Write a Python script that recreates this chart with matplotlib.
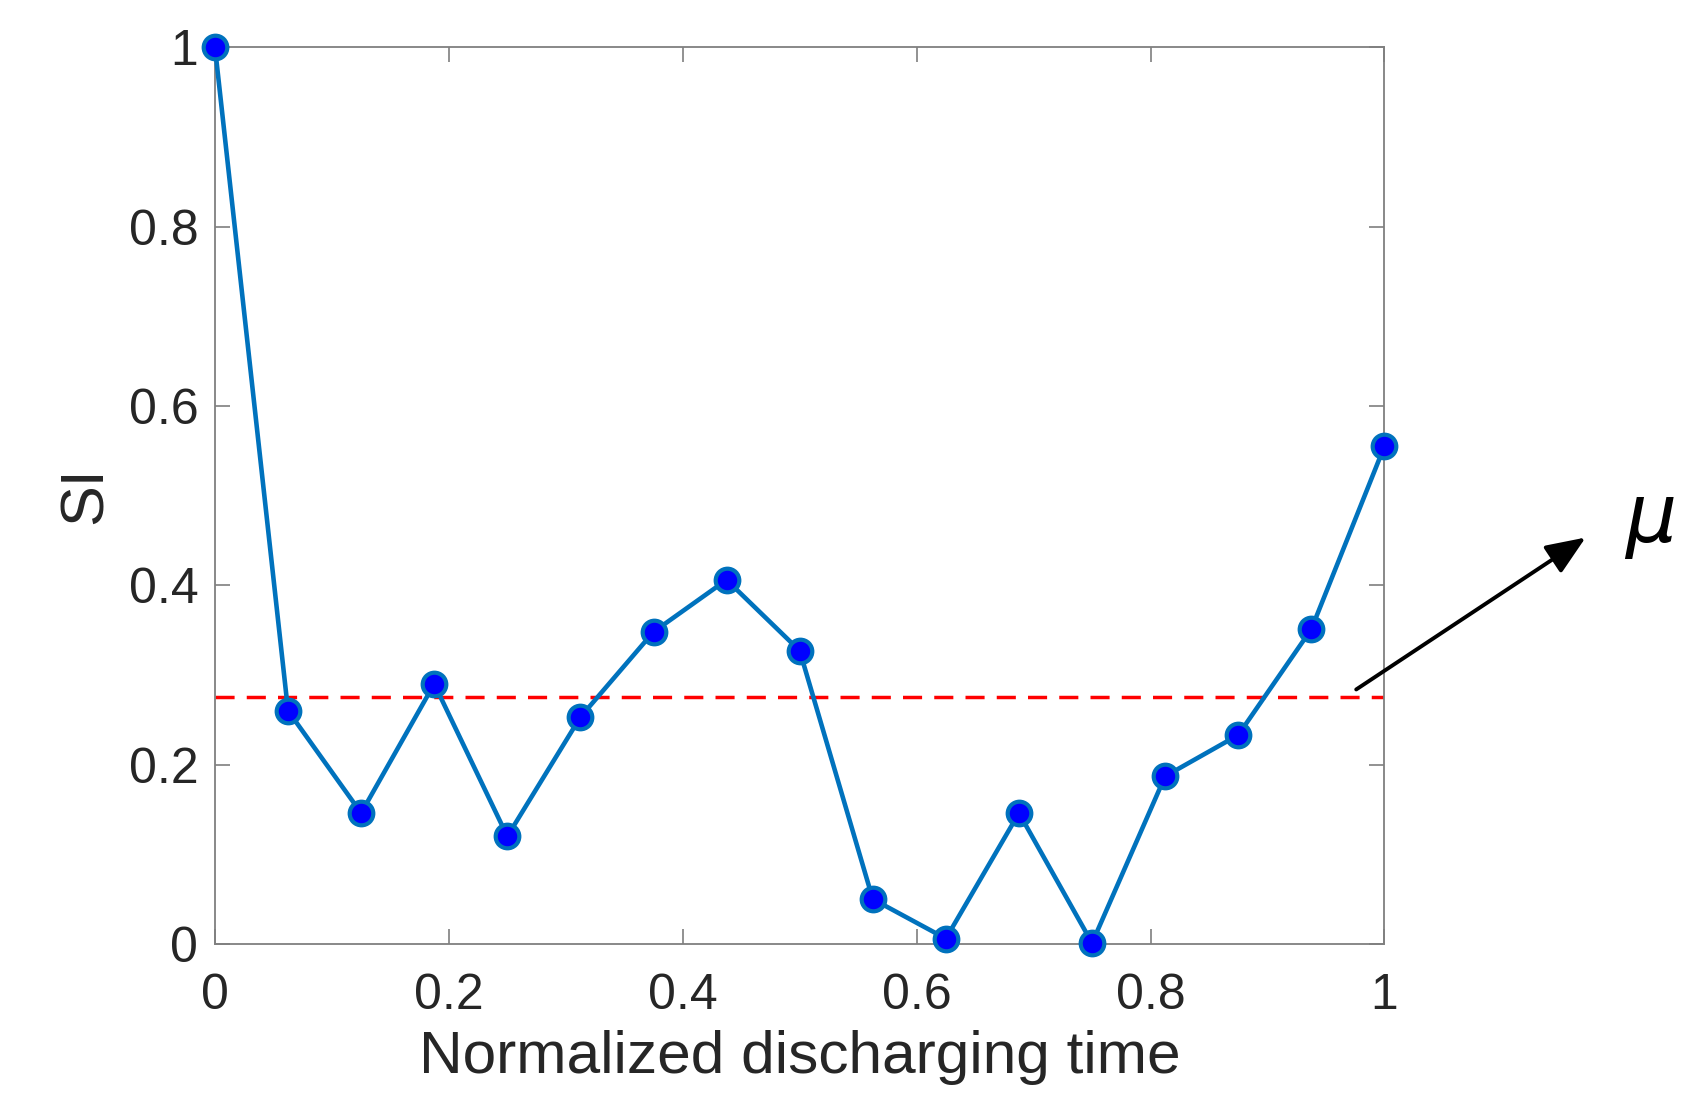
import matplotlib
matplotlib.use("Agg")
import matplotlib.pyplot as plt
import numpy as np

# normalized discharging time (17 equally spaced samples)
t_norm = [0, 0.0625, 0.125, 0.1875, 0.25, 0.3125, 0.375, 0.4375, 0.5,
          0.5625, 0.625, 0.6875, 0.75, 0.8125, 0.875, 0.9375, 1.0]
si = [1.0, 0.260, 0.146, 0.290, 0.120, 0.253, 0.348, 0.406, 0.327,
      0.050, 0.006, 0.146, 0.001, 0.187, 0.233, 0.351, 0.555]
x_ticks = [0, 0.2, 0.4, 0.6, 0.8, 1]
y_ticks = [0, 0.2, 0.4, 0.6, 0.8, 1]

plt.rcParams["font.family"] = ["Liberation Sans", "DejaVu Sans"]

fig = plt.figure(figsize=(17.06, 10.97), dpi=100)
ax = fig.add_axes([0.126, 0.1395, 0.6855, 0.8175])

mu = np.mean(si)
ax.plot([0, 1], [mu, mu], "--", color="red", lw=2.5, dashes=(5.5, 3.5), zorder=2)
ax.plot(t_norm, si, "-o", color="#0072BD", lw=3.3, ms=17,
        mfc="blue", mec="#0072BD", mew=3, zorder=3, clip_on=False)

ax.set_xlim(0, 1)
ax.set_ylim(0, 1)
ax.set_xticks(x_ticks)
ax.set_yticks(y_ticks)
ax.set_xticklabels([f"{v:g}" for v in x_ticks])
ax.set_yticklabels([f"{v:g}" for v in y_ticks])
ax.tick_params(direction="in", length=11, width=1.2, colors="#7f7f7f",
               labelcolor="#262626", labelsize=36, top=True, right=True)
ax.tick_params(axis="x", pad=21)
ax.tick_params(axis="y", pad=12)
for s in ax.spines.values():
    s.set_color("#7f7f7f")
    s.set_linewidth(1.3)

ax.set_xlabel("Normalized discharging time", fontsize=43.5, color="#262626", labelpad=8)
ax.set_ylabel("SI", fontsize=44, color="#262626", labelpad=10)

ax.annotate("", xy=(0.9308, 0.5114), xytext=(0.7936, 0.3701), xycoords="figure fraction",
            arrowprops=dict(arrowstyle="-|>,head_length=1.1,head_width=0.45",
                            mutation_scale=22, color="black", lw=2.8),
            annotation_clip=False)
fig.text(0.967, 0.523, r"$\mu$", fontsize=58, ha="center", va="center")

fig.savefig("out.png", dpi=100)
